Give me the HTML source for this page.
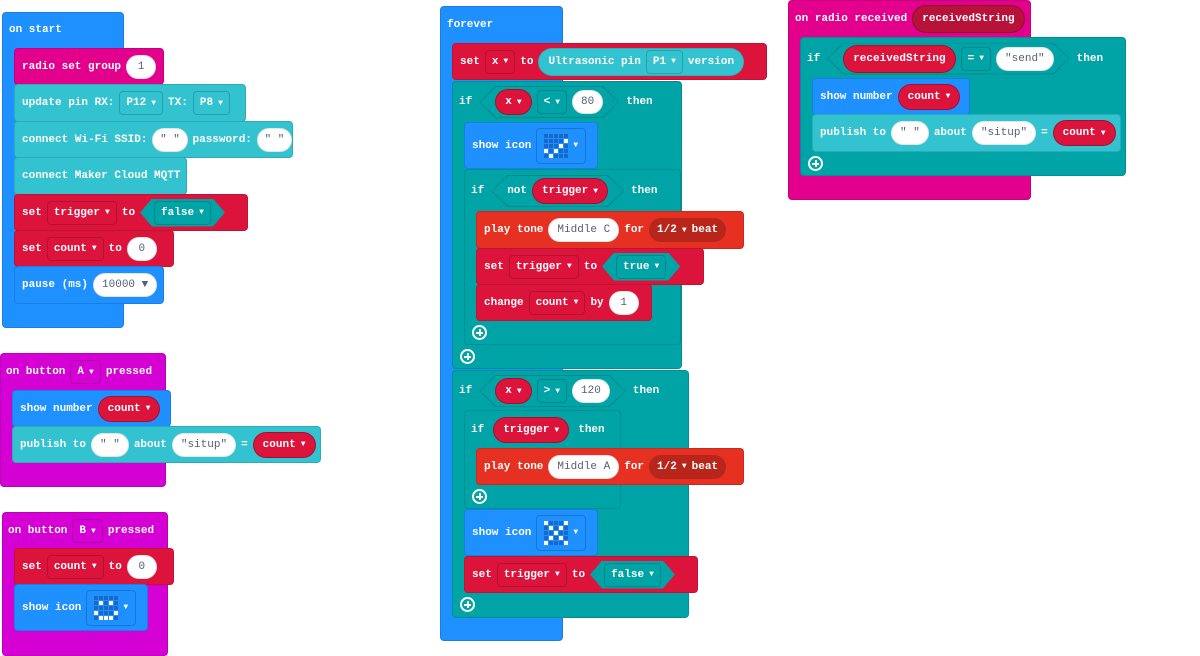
<!DOCTYPE html>
<html><head><meta charset="utf-8"><style>
body{margin:0;width:1200px;height:656px;background:#fff;position:relative;overflow:hidden;font-family:"Liberation Mono","DejaVu Sans Mono",monospace;font-weight:bold;font-size:11px;color:#fff}
.b{position:absolute;display:flex;align-items:center;padding-left:7px;gap:5px;box-sizing:border-box;border-radius:4px;white-space:nowrap;border:1px solid rgba(0,0,0,.12)}
.c{position:absolute;box-sizing:border-box;border-radius:4px;white-space:nowrap;border:1px solid rgba(0,0,0,.12)}
.h{display:flex;align-items:center;gap:5px;padding-left:6px;box-sizing:border-box}
.blue{background:#1e90ff}.pink{background:#e3008c}.cyan{background:#33c3d0}.red{background:#dc143c}.teal{background:#00a4a6}.purp{background:#d400d4}.tone{background:#e63022}
.dd{display:inline-flex;align-items:center;height:24px;padding:0 6px;border:1px solid rgba(0,0,0,.18);border-radius:4px;gap:5px;box-sizing:border-box}
.dd i,.vp i,.bt i{font-style:normal;font-size:8px}
.pl{display:inline-flex;align-items:center;justify-content:center;height:22px;padding:0 8px;background:#fff;color:#575e75;border-radius:12px;font-weight:normal;min-width:12px;border:1px solid rgba(0,0,0,.1)}
.vp{display:inline-flex;align-items:center;height:26px;padding:0 9px;background:#dc143c;border-radius:14px;border:1px solid rgba(0,0,0,.25);gap:5px;box-sizing:border-box}
.hx{display:inline-flex;align-items:center;height:28px;padding:0 14px;background:#00a4a6;gap:5px;clip-path:polygon(12px 0,calc(100% - 12px) 0,100% 50%,calc(100% - 12px) 100%,12px 100%,0 50%)}
.cd{display:inline-flex;align-items:center;height:32px;padding:0 16px;gap:5px;background:#00a4a6;position:relative;margin:0 2px}
.cd:before{content:"";position:absolute;inset:0;background:rgba(0,0,0,.15);clip-path:polygon(16px 0,calc(100% - 16px) 0,100% 50%,calc(100% - 16px) 100%,16px 100%,0 50%,16px 0,17px 1px,1px 50%,17px calc(100% - 1px),calc(100% - 17px) calc(100% - 1px),calc(100% - 1px) 50%,calc(100% - 17px) 1px,17px 1px)}
.cd>*{position:relative}
.pc{position:absolute;width:15px;height:15px;border:2px solid #fff;border-radius:50%;box-sizing:border-box}
.pc:before{content:"";position:absolute;left:2px;right:2px;top:4.5px;height:2px;background:#fff}
.pc:after{content:"";position:absolute;top:2px;bottom:2px;left:4.5px;width:2px;background:#fff}
.bt{display:inline-flex;align-items:center;height:24px;padding:0 8px;background:#b8251a;border-radius:12px;gap:5px}
svg{display:block}
</style></head><body>
<svg width="0" height="0" style="position:absolute"><defs><pattern id="g" width="5" height="5" patternUnits="userSpaceOnUse"><rect width="4" height="4" fill="#1669c8"/></pattern></defs></svg>

<!-- on start -->
<div class="c blue" style="left:2px;top:12px;width:122px;height:316px"><div class="h" style="height:34px">on start</div></div>
<div class="b pink" style="left:14px;top:48px;width:150px;height:37px">radio set group <span class="pl">1</span></div>
<div class="b cyan" style="left:14px;top:84px;width:232px;height:38px">update pin RX: <span class="dd">P12 <i>▼</i></span> TX: <span class="dd">P8 <i>▼</i></span></div>
<div class="b cyan" style="left:14px;top:121px;width:279px;height:37px">connect Wi-Fi SSID: <span class="pl">" "</span> password: <span class="pl">" "</span></div>
<div class="b cyan" style="left:14px;top:157px;width:173px;height:38px">connect Maker Cloud MQTT</div>
<div class="b red" style="left:14px;top:194px;width:234px;height:37px">set <span class="dd">trigger <i>▼</i></span> to <span class="hx"><span class="dd">false <i>▼</i></span></span></div>
<div class="b red" style="left:14px;top:230px;width:160px;height:37px">set <span class="dd">count <i>▼</i></span> to <span class="pl">0</span></div>
<div class="b blue" style="left:14px;top:266px;width:150px;height:38px">pause (ms) <span class="pl">10000 &#9660;</span></div>

<!-- on button A -->
<div class="c purp" style="left:0;top:353px;width:166px;height:134px"><div class="h" style="height:36px;padding-left:5px">on button <span class="dd">A <i>▼</i></span> pressed</div></div>
<div class="b blue" style="left:12px;top:390px;width:159px;height:37px">show number <span class="vp">count <i>▼</i></span></div>
<div class="b cyan" style="left:12px;top:426px;width:309px;height:37px">publish to <span class="pl">" "</span> about <span class="pl">"situp"</span> = <span class="vp">count <i>▼</i></span></div>

<!-- on button B -->
<div class="c purp" style="left:2px;top:512px;width:166px;height:144px"><div class="h" style="height:36px;padding-left:5px">on button <span class="dd">B <i>▼</i></span> pressed</div></div>
<div class="b red" style="left:14px;top:548px;width:160px;height:37px">set <span class="dd">count <i>▼</i></span> to <span class="pl">0</span></div>
<div class="b blue" style="left:14px;top:584px;width:134px;height:47px">show icon <span class="dd" style="height:36px;padding:0 7px">
<svg width="24" height="24"><rect width="24" height="24" fill="url(#g)"/><g fill="#fff"><rect x="5" y="5" width="4" height="4"/><rect x="15" y="5" width="4" height="4"/><rect x="0" y="15" width="4" height="4"/><rect x="20" y="15" width="4" height="4"/><rect x="5" y="20" width="4" height="4"/><rect x="10" y="20" width="4" height="4"/><rect x="15" y="20" width="4" height="4"/></g></svg><i>▼</i></span></div>

<!-- forever -->
<div class="c blue" style="left:440px;top:6px;width:123px;height:635px"><div class="h" style="height:36px">forever</div></div>
<div class="b red" style="left:452px;top:43px;width:315px;height:37px">set <span class="dd">x <i>▼</i></span> to <span class="vp" style="background:#33c3d0;border-color:rgba(0,0,0,.1);height:28px">Ultrasonic pin <span class="dd">P1 <i>▼</i></span> version</span></div>
<div class="c teal" style="left:452px;top:81px;width:230px;height:288px"><div class="h" style="height:40px">if <span class="cd"><span class="vp">x <i>▼</i></span><span class="dd">&lt; <i>▼</i></span><span class="pl">80</span></span> then</div></div>
<div class="pc" style="left:460px;top:349px"></div>
<div class="b blue" style="left:464px;top:122px;width:134px;height:47px">show icon <span class="dd" style="height:36px;padding:0 7px">
<svg width="24" height="24"><rect width="24" height="24" fill="url(#g)"/><g fill="#fff"><rect x="20" y="5" width="4" height="4"/><rect x="15" y="10" width="4" height="4"/><rect x="0" y="15" width="4" height="4"/><rect x="10" y="15" width="4" height="4"/><rect x="5" y="20" width="4" height="4"/></g></svg><i>▼</i></span></div>
<div class="c teal" style="left:464px;top:169px;width:217px;height:176px"><div class="h" style="height:42px">if <span class="cd"><span>not</span><span class="vp">trigger <i>▼</i></span></span> then</div></div>
<div class="pc" style="left:472px;top:325px"></div>
<div class="b tone" style="left:476px;top:211px;width:268px;height:38px">play tone <span class="pl">Middle C</span> for <span class="bt">1/2 <i>▼</i> beat</span></div>
<div class="b red" style="left:476px;top:248px;width:228px;height:37px">set <span class="dd">trigger <i>▼</i></span> to <span class="hx"><span class="dd">true <i>▼</i></span></span></div>
<div class="b red" style="left:476px;top:284px;width:176px;height:37px">change <span class="dd">count <i>▼</i></span> by <span class="pl">1</span></div>

<div class="c teal" style="left:452px;top:370px;width:237px;height:248px"><div class="h" style="height:40px">if <span class="cd"><span class="vp">x <i>▼</i></span><span class="dd">&gt; <i>▼</i></span><span class="pl">120</span></span> then</div></div>
<div class="pc" style="left:460px;top:597px"></div>
<div class="c teal" style="left:464px;top:410px;width:157px;height:99px"><div class="h" style="height:38px">if <span class="vp" style="margin:0 4px">trigger <i>▼</i></span> then</div></div>
<div class="pc" style="left:472px;top:489px"></div>
<div class="b tone" style="left:476px;top:448px;width:268px;height:37px">play tone <span class="pl">Middle A</span> for <span class="bt">1/2 <i>▼</i> beat</span></div>
<div class="b blue" style="left:464px;top:509px;width:134px;height:47px">show icon <span class="dd" style="height:36px;padding:0 7px">
<svg width="24" height="24"><rect width="24" height="24" fill="url(#g)"/><g fill="#fff"><rect x="0" y="0" width="4" height="4"/><rect x="20" y="0" width="4" height="4"/><rect x="5" y="5" width="4" height="4"/><rect x="15" y="5" width="4" height="4"/><rect x="10" y="10" width="4" height="4"/><rect x="5" y="15" width="4" height="4"/><rect x="15" y="15" width="4" height="4"/><rect x="0" y="20" width="4" height="4"/><rect x="20" y="20" width="4" height="4"/></g></svg><i>▼</i></span></div>
<div class="b red" style="left:464px;top:556px;width:234px;height:37px">set <span class="dd">trigger <i>▼</i></span> to <span class="hx"><span class="dd">false <i>▼</i></span></span></div>

<!-- radio received -->
<div class="c pink" style="left:788px;top:0;width:243px;height:200px"><div class="h" style="height:36px">on radio received <span class="vp" style="background:#b8123a;height:28px">receivedString</span></div></div>
<div class="c teal" style="left:800px;top:37px;width:326px;height:139px"><div class="h" style="height:41px">if <span class="cd"><span class="vp" style="height:28px">receivedString</span><span class="dd">= <i>▼</i></span><span class="pl">"send"</span></span> then</div></div>
<div class="pc" style="left:808px;top:156px"></div>
<div class="b blue" style="left:812px;top:78px;width:158px;height:37px">show number <span class="vp">count <i>▼</i></span></div>
<div class="b cyan" style="left:812px;top:114px;width:309px;height:38px">publish to <span class="pl">" "</span> about <span class="pl">"situp"</span> = <span class="vp">count <i>▼</i></span></div>
</body></html>
